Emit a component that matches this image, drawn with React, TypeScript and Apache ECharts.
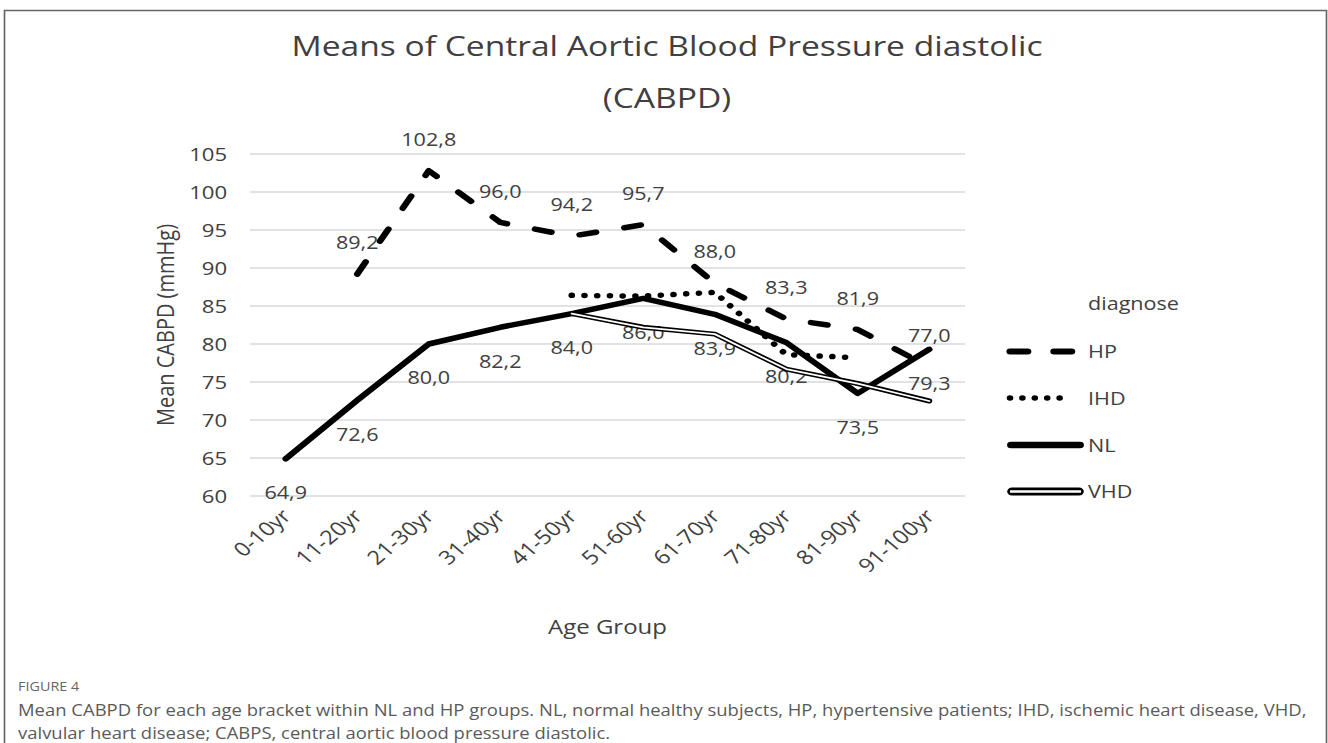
import React, { useEffect, useRef } from "react";
import * as echarts from "echarts";

const categories = ["0-10yr", "11-20yr", "21-30yr", "31-40yr", "41-50yr", "51-60yr", "61-70yr", "71-80yr", "81-90yr", "91-100yr"];
const hpValues = [null, 89.2, 102.8, 96.0, 94.2, 95.7, 88.0, 83.3, 81.9, 77.0];
const ihdValues = [null, null, null, null, 86.4, 86.3, 86.8, 78.6, 78.2, null];
const nlValues = [64.9, 72.6, 80.0, 82.2, 84.0, 86.0, 83.9, 80.2, 73.5, 79.3];
const vhdValues = [null, null, null, null, 84.0, 82.2, 81.3, 76.7, 74.8, 72.5];
const yTicks = { min: 60, max: 105, interval: 5 };
const legendNames = ["HP", "IHD", "NL", "VHD"];

const FONT = "'Open Sans', sans-serif";
const TXT = "#404040";

// The reference figure is stretched horizontally; draw in a narrower box and scale it.
const W = 1107;
const H = 743;
const S = 1328 / W;
const sx = (x: number) => x / S;

const fmt = (p: any) => (p.value == null ? "" : Number(p.value).toFixed(1).replace(".", ","));

const hiddenSymbol = {
  symbol: "circle",
  symbolSize: 1,
  showSymbol: true,
  itemStyle: { color: "rgba(0,0,0,0)", borderWidth: 0 },
};

export default function App() {
  const ref = useRef<HTMLDivElement>(null);
  useEffect(() => {
    if (!ref.current) return;
    const chart = echarts.init(ref.current, null, { renderer: "svg" });
    const legendTextX = sx(1088);
    const legendY = [351.5, 398, 445, 491.5];
    const labelFont = { fontSize: 18, color: TXT, fontFamily: FONT };
    const option: any = {
      animation: false,
      backgroundColor: "#ffffff",
      textStyle: { fontFamily: FONT },
      title: {
        text: "Means of Central Aortic Blood Pressure diastolic\n(CABPD)",
        left: sx(661),
        textAlign: "center",
        top: 14,
        textStyle: { fontFamily: FONT, fontSize: 28, fontWeight: "normal", color: TXT, lineHeight: 52 },
      },
      grid: { left: sx(250), right: W - sx(965), top: 154, bottom: H - 496, containLabel: false },
      xAxis: {
        type: "category",
        data: categories,
        boundaryGap: true,
        axisLine: { show: false },
        axisTick: { show: false },
        axisLabel: { rotate: 45, margin: 16, fontSize: 19.5, color: TXT, fontFamily: FONT, interval: 0 },
        name: "Age Group",
        nameLocation: "middle",
        nameGap: 120,
        nameTextStyle: { fontSize: 20, color: TXT, fontFamily: FONT },
      },
      yAxis: {
        type: "value",
        min: yTicks.min,
        max: yTicks.max,
        interval: yTicks.interval,
        axisLine: { show: false },
        axisTick: { show: false },
        axisLabel: { fontSize: 18.5, color: TXT, fontFamily: FONT, margin: 19 },
        splitLine: { lineStyle: { color: "#d9d9d9", width: 1.6 } },
        name: "Mean CABPD (mmHg)",
        nameLocation: "middle",
        nameGap: 59,
        nameTextStyle: { fontSize: 20, color: TXT, fontFamily: FONT },
      },
      series: [
        {
          name: "HP",
          type: "line",
          data: hpValues,
          ...hiddenSymbol,
          lineStyle: { color: "#000", width: 5.5, type: [14, 24], cap: "round", join: "round" },
          label: { show: true, position: "top", distance: 22, formatter: fmt, ...labelFont },
          z: 3,
        },
        {
          name: "IHD",
          type: "line",
          data: ihdValues,
          symbol: "none",
          lineStyle: { color: "#000", width: 5.5, type: [0.01, 10.6], cap: "round", join: "round" },
          z: 3,
        },
        {
          name: "NL",
          type: "line",
          data: nlValues,
          ...hiddenSymbol,
          lineStyle: { color: "#000", width: 5.5, cap: "round", join: "round" },
          label: { show: true, position: "bottom", distance: 24, formatter: fmt, ...labelFont },
          z: 3,
        },
        {
          name: "VHD",
          type: "line",
          data: vhdValues,
          symbol: "none",
          lineStyle: { color: "#000", width: 5, cap: "round", join: "round" },
          z: 4,
        },
        {
          name: "VHD inner",
          type: "line",
          data: vhdValues,
          symbol: "none",
          lineStyle: { color: "#fff", width: 1.8, cap: "round", join: "round" },
          z: 5,
        },
      ],
      graphic: [
        {
          type: "rect",
          shape: { x: sx(4.5), y: 10.5, width: sx(1322), height: 760 },
          style: { fill: "none", stroke: "#666", lineWidth: 1.4 },
          silent: true,
        },
        {
          type: "text",
          x: legendTextX,
          y: 303,
          style: { text: "diagnose", fontSize: 18, fill: TXT, fontFamily: FONT, verticalAlign: "middle" },
        },
        {
          type: "line",
          shape: { x1: sx(1010), y1: legendY[0], x2: sx(1010) + 14.8 + 21.8 + 14.8, y2: legendY[0] },
          style: { stroke: "#000", lineWidth: 6, lineDash: [14.8, 21.8], lineCap: "round" },
        },
        {
          type: "line",
          shape: { x1: sx(1010), y1: legendY[1], x2: sx(1010) + 5 * 10.33, y2: legendY[1] },
          style: { stroke: "#000", lineWidth: 5.5, lineDash: [0.01, 10.33], lineCap: "round" },
        },
        {
          type: "line",
          shape: { x1: sx(1011), y1: legendY[2], x2: sx(1080), y2: legendY[2] },
          style: { stroke: "#000", lineWidth: 6.5, lineCap: "round" },
        },
        {
          type: "line",
          shape: { x1: sx(1012), y1: legendY[3], x2: sx(1079), y2: legendY[3] },
          style: { stroke: "#000", lineWidth: 8, lineCap: "round" },
        },
        {
          type: "line",
          shape: { x1: sx(1010), y1: legendY[3], x2: sx(1081), y2: legendY[3] },
          style: { stroke: "#fff", lineWidth: 2.6, lineCap: "butt" },
        },
        ...legendNames.map((n, i) => ({
          type: "text",
          x: legendTextX,
          y: legendY[i],
          style: { text: n, fontSize: 18, fill: TXT, fontFamily: FONT, verticalAlign: "middle" },
        })),
        {
          type: "text",
          x: sx(18),
          y: 686,
          style: { text: "FIGURE 4", fontSize: 12, fill: "#666", fontFamily: FONT, verticalAlign: "middle" },
        },
        {
          type: "text",
          x: sx(18),
          y: 710,
          style: {
            text: "Mean CABPD for each age bracket within NL and HP groups. NL, normal healthy subjects, HP, hypertensive patients; IHD, ischemic heart disease, VHD,",
            fontSize: 15.4,
            fill: "#5a5a5a",
            fontFamily: FONT,
            verticalAlign: "middle",
          },
        },
        {
          type: "text",
          x: sx(18),
          y: 733,
          style: {
            text: "valvular heart disease; CABPS, central aortic blood pressure diastolic.",
            fontSize: 15.4,
            fill: "#5a5a5a",
            fontFamily: FONT,
            verticalAlign: "middle",
          },
        },
      ],
    };
    chart.setOption(option);
    return () => chart.dispose();
  }, []);
  return (
    <div
      ref={ref}
      style={{
        position: "absolute",
        left: 0,
        top: 0,
        width: W,
        height: H,
        transform: `scaleX(${S})`,
        transformOrigin: "0 0",
      }}
    />
  );
}
